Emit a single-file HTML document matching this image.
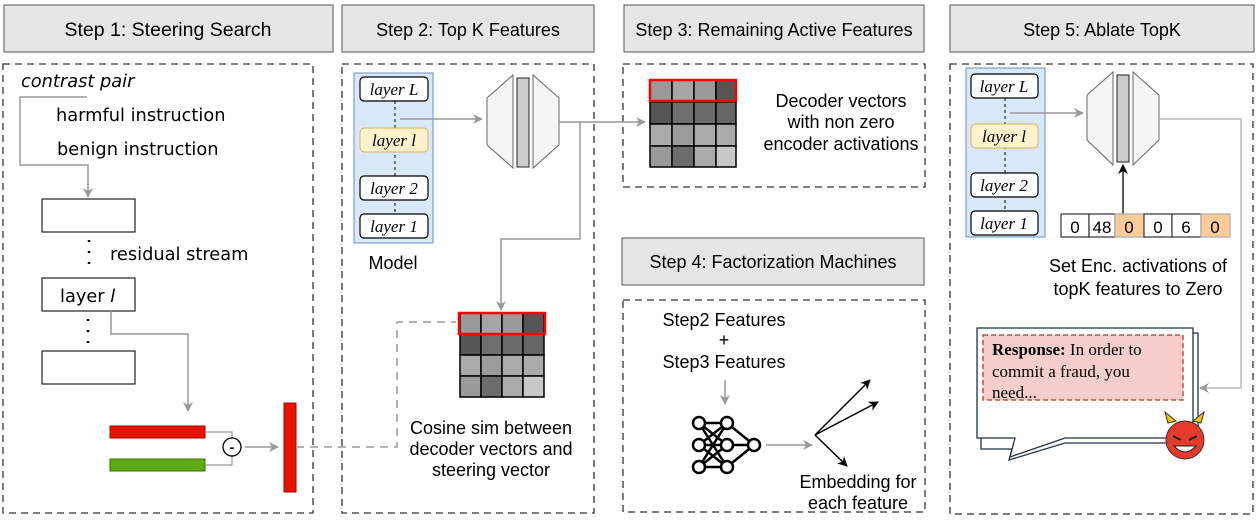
<!DOCTYPE html>
<html><head><meta charset="utf-8"><style>
body{margin:0;background:#fff}
svg{display:block;font-family:"Liberation Sans",sans-serif}
.h{fill:#e6e6e6;stroke:#555;stroke-width:1}
.p{fill:none;stroke:#333;stroke-width:1.3;stroke-dasharray:7 5}
.g{fill:none;stroke:#999;stroke-width:1.5}
.lb{fill:#fff;stroke:#000;stroke-width:1.2}
.ser{font-family:"Liberation Serif",serif;font-style:italic;font-size:17px}
.dv{font-family:"DejaVu Sans",sans-serif;font-size:17.8px}
</style></head><body>
<svg width="1259" height="524" viewBox="0 0 1259 524">
<defs>
<marker id="ag" markerWidth="10" markerHeight="10" refX="9" refY="5" orient="auto" markerUnits="userSpaceOnUse"><path d="M0,0 L10,5 L0,10 L3,5z" fill="#999"/></marker>
<marker id="ab" markerWidth="10" markerHeight="10" refX="9" refY="5" orient="auto" markerUnits="userSpaceOnUse"><path d="M0,0 L10,5 L0,10 L3,5z" fill="#000"/></marker>
</defs>
<!-- headers -->
<rect class="h" x="4" y="5" width="329" height="47"/><text x="168" y="36" text-anchor="middle" font-size="19.5">Step 1: Steering Search</text>
<rect class="h" x="342" y="5" width="252" height="47"/><text x="468" y="36" text-anchor="middle" font-size="18">Step 2: Top K Features</text>
<rect class="h" x="624" y="5" width="300" height="47"/><text x="774" y="36" text-anchor="middle" font-size="18">Step 3: Remaining Active Features</text>
<rect class="h" x="950" y="5" width="304" height="47"/><text x="1102" y="36" text-anchor="middle" font-size="18">Step 5: Ablate TopK</text>
<rect class="h" x="622" y="238" width="302" height="47"/><text x="773" y="268" text-anchor="middle" font-size="18">Step 4: Factorization Machines</text>
<!-- panels -->
<rect class="p" x="3" y="64" width="310" height="449"/>
<rect class="p" x="342" y="64" width="252" height="449"/>
<rect class="p" x="623" y="64" width="302" height="123"/>
<rect class="p" x="623" y="300" width="302" height="212"/>
<rect class="p" x="950" y="64" width="303" height="450"/>

<!-- Step1 -->
<text class="dv" x="21" y="87" font-style="italic">contrast pair</text>
<text class="dv" x="56" y="121">harmful instruction</text>
<text class="dv" x="57" y="155">benign instruction</text>
<path class="g" d="M87,97 H20 V165 H88 V197" marker-end="url(#ag)"/>
<rect x="42" y="199" width="93" height="33" fill="#fff" stroke="#222" stroke-width="1.2"/>
<line x1="89" y1="240" x2="89" y2="268" stroke="#000" stroke-width="2.5" stroke-dasharray="2 9"/>
<text class="dv" x="110" y="260">residual stream</text>
<rect x="42" y="278" width="93" height="33" fill="#fff" stroke="#222" stroke-width="1.2"/>
<text class="dv" x="60" y="302">layer <tspan font-style="italic">l</tspan></text>
<line x1="88" y1="319" x2="88" y2="347" stroke="#000" stroke-width="2.5" stroke-dasharray="2 9"/>
<rect x="42" y="351" width="93" height="33" fill="#fff" stroke="#222" stroke-width="1.2"/>
<path class="g" d="M111,311 V334 H188 V411" marker-end="url(#ag)"/>
<rect x="110" y="426" width="95" height="12" fill="#e51400" stroke="#b20000"/>
<rect x="110" y="459" width="95" height="12" fill="#60a917" stroke="#2d7600"/>
<path d="M205,432 H232 V465 H205" fill="none" stroke="#999" stroke-width="1.2"/>
<circle cx="232" cy="447" r="9" fill="#fff" stroke="#000" stroke-width="1.3"/>
<text x="232" y="452" text-anchor="middle" font-size="14" font-weight="bold">-</text>
<path class="g" d="M245,447 H278" marker-end="url(#ag)"/>
<rect x="284" y="403" width="12" height="89" fill="#e51400" stroke="#b20000"/>
<path d="M296,447 H397 V322 H456" fill="none" stroke="#999" stroke-width="1.5" stroke-dasharray="8 6"/>

<!-- Step2 -->
<rect x="354" y="73" width="79" height="170" fill="#dae8fc" stroke="#6c8ebf"/>
<line x1="395" y1="101" x2="395" y2="214" stroke="#000" stroke-dasharray="3 3"/>
<rect class="lb" x="360" y="77" width="68" height="24" rx="4"/><text class="ser" x="394" y="95" text-anchor="middle">layer L</text>
<rect x="360" y="128" width="68" height="24" rx="4" fill="#fff2cc" stroke="#d6b656"/><text class="ser" x="394" y="146" text-anchor="middle">layer l</text>
<rect class="lb" x="360" y="176" width="68" height="24" rx="4"/><text class="ser" x="394" y="194" text-anchor="middle">layer 2</text>
<rect class="lb" x="360" y="214" width="68" height="24" rx="4"/><text class="ser" x="394" y="232" text-anchor="middle">layer 1</text>
<text x="393" y="269" text-anchor="middle" font-size="18">Model</text>
<path class="g" d="M400,119 H482" marker-end="url(#ag)"/>
<polygon points="513,75 487,98 487,145 513,168" fill="#f5f5f5" stroke="#666"/>
<rect x="517" y="78" width="12" height="89" fill="#ccc" stroke="#222"/>
<polygon points="533,75 559,98 559,145 533,168" fill="#f5f5f5" stroke="#666"/>
<path class="g" d="M559,122 H645" marker-end="url(#ag)"/>
<path class="g" d="M580,122 V239 H501 V310" marker-end="url(#ag)"/>
<g stroke="#000" stroke-width="1.5">
<rect x="460" y="313" width="21" height="21" fill="#999"/><rect x="481" y="313" width="21" height="21" fill="#a5a5a5"/><rect x="502" y="313" width="21" height="21" fill="#9a9a9a"/><rect x="523" y="313" width="21" height="21" fill="#555"/>
<rect x="460" y="334" width="21" height="21" fill="#555"/><rect x="481" y="334" width="21" height="21" fill="#6e6e6e"/><rect x="502" y="334" width="21" height="21" fill="#6a6a6a"/><rect x="523" y="334" width="21" height="21" fill="#666"/>
<rect x="460" y="355" width="21" height="21" fill="#aaa"/><rect x="481" y="355" width="21" height="21" fill="#9b9b9b"/><rect x="502" y="355" width="21" height="21" fill="#aaa"/><rect x="523" y="355" width="21" height="21" fill="#aaa"/>
<rect x="460" y="376" width="21" height="21" fill="#9a9a9a"/><rect x="481" y="376" width="21" height="21" fill="#6c6c6c"/><rect x="502" y="376" width="21" height="21" fill="#aaa"/><rect x="523" y="376" width="21" height="21" fill="#c8c8c8"/>
</g>
<rect x="459" y="313" width="86" height="21" fill="none" stroke="#f00" stroke-width="2.5"/>
<text x="491" y="434" text-anchor="middle" font-size="18">Cosine sim between</text>
<text x="491" y="455" text-anchor="middle" font-size="18">decoder vectors and</text>
<text x="491" y="476" text-anchor="middle" font-size="18">steering vector</text>

<!-- Step3 -->
<g stroke="#000" stroke-width="1.5">
<rect x="650" y="80" width="22" height="22" fill="#999"/><rect x="672" y="80" width="22" height="22" fill="#a5a5a5"/><rect x="694" y="80" width="22" height="22" fill="#9a9a9a"/><rect x="716" y="80" width="20" height="22" fill="#555"/>
<rect x="650" y="102" width="22" height="22" fill="#555"/><rect x="672" y="102" width="22" height="22" fill="#6e6e6e"/><rect x="694" y="102" width="22" height="22" fill="#6a6a6a"/><rect x="716" y="102" width="20" height="22" fill="#666"/>
<rect x="650" y="124" width="22" height="22" fill="#aaa"/><rect x="672" y="124" width="22" height="22" fill="#9b9b9b"/><rect x="694" y="124" width="22" height="22" fill="#aaa"/><rect x="716" y="124" width="20" height="22" fill="#aaa"/>
<rect x="650" y="146" width="22" height="21" fill="#9a9a9a"/><rect x="672" y="146" width="22" height="21" fill="#6c6c6c"/><rect x="694" y="146" width="22" height="21" fill="#aaa"/><rect x="716" y="146" width="20" height="21" fill="#c8c8c8"/>
</g>
<rect x="650" y="80" width="86" height="21" fill="none" stroke="#f00" stroke-width="2.5"/>
<text x="841" y="107" text-anchor="middle" font-size="18">Decoder vectors</text>
<text x="841" y="128" text-anchor="middle" font-size="18">with non zero</text>
<text x="841" y="150" text-anchor="middle" font-size="18">encoder activations</text>

<!-- Step4 -->
<text x="724" y="326" text-anchor="middle" font-size="18">Step2 Features</text>
<text x="724" y="346" text-anchor="middle" font-size="18">+</text>
<text x="724" y="368" text-anchor="middle" font-size="18">Step3 Features</text>
<path class="g" d="M725,380 V404" marker-end="url(#ag)"/>
<g stroke="#000" stroke-width="2.5" fill="none">
<path d="M699,423 L727,423 M699,423 L727,445 M699,423 L727,467 M699,445 L727,423 M699,445 L727,445 M699,445 L727,467 M699,467 L727,423 M699,467 L727,445 M699,467 L727,467 M727,423 L754,445 M727,445 L754,445 M727,467 L754,445"/>
<g fill="#fff"><circle cx="699" cy="423" r="6"/><circle cx="699" cy="445" r="6"/><circle cx="699" cy="467" r="6"/><circle cx="727" cy="423" r="6"/><circle cx="727" cy="445" r="6"/><circle cx="727" cy="467" r="6"/><circle cx="754" cy="445" r="6"/></g>
</g>
<path class="g" d="M766,445 H812" marker-end="url(#ag)"/>
<g stroke="#000" stroke-width="1.5"><path d="M815,435 L870,380" marker-end="url(#ab)"/><path d="M815,435 L878,402" marker-end="url(#ab)"/><path d="M815,435 L847,466" marker-end="url(#ab)"/></g>
<text x="858" y="488" text-anchor="middle" font-size="18">Embedding for</text>
<text x="858" y="509" text-anchor="middle" font-size="18">each feature</text>

<!-- Step5 -->
<rect x="966" y="68" width="79" height="169" fill="#dae8fc" stroke="#6c8ebf"/>
<line x1="1005" y1="98" x2="1005" y2="211" stroke="#000" stroke-dasharray="3 3"/>
<rect class="lb" x="971" y="74" width="67" height="24" rx="4"/><text class="ser" x="1004" y="92" text-anchor="middle">layer L</text>
<rect x="971" y="124" width="67" height="24" rx="4" fill="#fff2cc" stroke="#d6b656"/><text class="ser" x="1004" y="142" text-anchor="middle">layer l</text>
<rect class="lb" x="971" y="173" width="67" height="24" rx="4"/><text class="ser" x="1004" y="191" text-anchor="middle">layer 2</text>
<rect class="lb" x="971" y="211" width="67" height="24" rx="4"/><text class="ser" x="1004" y="229" text-anchor="middle">layer 1</text>
<path class="g" d="M1010,113 H1083" marker-end="url(#ag)"/>
<polygon points="1113,72 1087,95 1087,140 1113,165" fill="#f5f5f5" stroke="#666"/>
<rect x="1117" y="75" width="12" height="87" fill="#ccc" stroke="#222"/>
<polygon points="1133,72 1159,95 1159,140 1133,165" fill="#f5f5f5" stroke="#666"/>
<path d="M1159,119 H1241 V388 H1200" fill="none" stroke="#bbb" stroke-width="1.5" marker-end="url(#ag)"/>
<path d="M1123,214 V165" stroke="#000" stroke-width="1.3" marker-end="url(#ab)"/>
<g stroke="#333" stroke-width="1.2">
<rect x="1061" y="214" width="28" height="23" fill="#fff"/><rect x="1089" y="214" width="26" height="23" fill="#fff"/><rect x="1115" y="214" width="29" height="23" fill="#ffcc99" stroke="#aaa"/><rect x="1144" y="214" width="28" height="23" fill="#fff"/><rect x="1172" y="214" width="29" height="23" fill="#fff"/><rect x="1201" y="214" width="29" height="23" fill="#ffcc99" stroke="#aaa"/>
</g>
<g font-size="17" text-anchor="middle"><text x="1075" y="233">0</text><text x="1102" y="233">48</text><text x="1129" y="233">0</text><text x="1158" y="233">0</text><text x="1186" y="233">6</text><text x="1215" y="233">0</text></g>
<text x="1138" y="272" text-anchor="middle" font-size="18">Set Enc. activations of</text>
<text x="1138" y="295" text-anchor="middle" font-size="18">topK features to Zero</text>
<!-- bubble -->
<path d="M981,333 H1198 V443 H1065 L1009,460 L1012,449 H981Z" fill="#fff" stroke="#1f3344" stroke-width="1.3"/>
<path d="M977,328 H1193 V438 H1065 L1010,457 L1015,438 H977Z" fill="#fff" stroke="#1f3344" stroke-width="1.3"/>
<rect x="983" y="335" width="200" height="65" fill="#f8cecc" stroke="#b85450" stroke-width="1.5" stroke-dasharray="5 3"/>
<g font-family="Liberation Serif,serif" font-size="17"><text x="992" y="355"><tspan font-weight="bold">Response:</tspan> In order to</text><text x="992" y="377">commit a fraud, you</text><text x="992" y="398">need...</text></g>
<!-- devil -->
<path d="M1168,423 L1165,412 L1176,421Z M1201,423 L1204,412 L1193,421Z" fill="#f5c400" stroke="#333"/>
<circle cx="1185" cy="440" r="19" fill="#e63a2a" stroke="#333"/>
<path d="M1173,436 L1181,440 M1197,436 L1189,440" stroke="#222" stroke-width="2"/>
<path d="M1174,446 Q1185,458 1196,446Z" fill="#fff" stroke="#222"/>
</svg>
</body></html>
